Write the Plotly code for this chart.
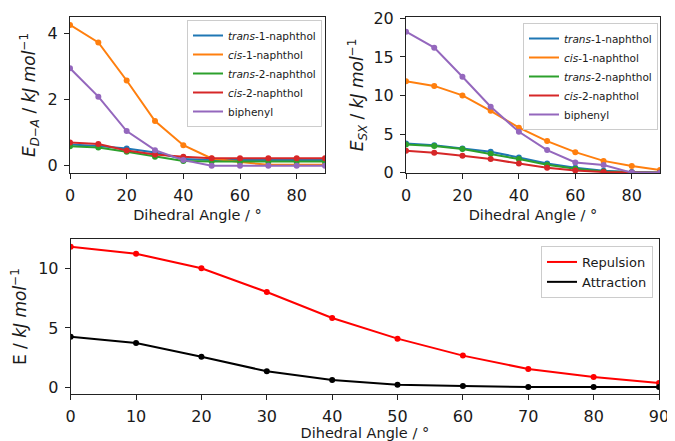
import plotly.graph_objects as go

angles = [0, 10, 20, 30, 40, 50, 60, 70, 80, 90]

series_names = ["<i>trans</i>-1-naphthol", "<i>cis</i>-1-naphthol",
                "<i>trans</i>-2-naphthol", "<i>cis</i>-2-naphthol", "biphenyl"]
series_colors = ["#1f77b4", "#ff7f0e", "#2ca02c", "#d62728", "#9467bd"]

# E_D-A (kJ/mol)
eda_trans1 = [0.64, 0.60, 0.52, 0.40, 0.20, 0.17, 0.17, 0.17, 0.17, 0.17]
eda_cis1 = [4.26, 3.73, 2.58, 1.35, 0.62, 0.22, 0.11, 0.03, 0.03, 0.03]
eda_trans2 = [0.59, 0.55, 0.42, 0.27, 0.14, 0.13, 0.13, 0.13, 0.13, 0.13]
eda_cis2 = [0.70, 0.66, 0.46, 0.34, 0.27, 0.23, 0.23, 0.23, 0.23, 0.23]
eda_biphenyl = [2.95, 2.09, 1.05, 0.47, 0.17, 0.0, 0.0, 0.0, 0.0, 0.0]

# E_SX (kJ/mol)
esx_trans1 = [3.80, 3.56, 3.15, 2.72, 1.99, 1.20, 0.65, 0.26, 0.10, 0.05]
esx_cis1 = [11.84, 11.25, 10.02, 8.02, 5.84, 4.10, 2.67, 1.54, 0.87, 0.36]
esx_trans2 = [3.67, 3.45, 3.07, 2.46, 1.77, 1.04, 0.52, 0.17, 0.05, 0.0]
esx_cis2 = [2.85, 2.60, 2.20, 1.77, 1.20, 0.65, 0.30, 0.10, 0.02, 0.0]
esx_biphenyl = [18.27, 16.20, 12.44, 8.55, 5.31, 2.94, 1.34, 1.00, 0.02, 0.0]

# bottom panel
repulsion = [11.84, 11.25, 10.02, 8.02, 5.84, 4.10, 2.67, 1.54, 0.87, 0.36]
attraction = [4.26, 3.73, 2.58, 1.35, 0.62, 0.22, 0.11, 0.03, 0.03, 0.03]

eda_series = [eda_trans1, eda_cis1, eda_trans2, eda_cis2, eda_biphenyl]
esx_series = [esx_trans1, esx_cis1, esx_trans2, esx_cis2, esx_biphenyl]

top_ticks = [0, 20, 40, 60, 80]
bottom_ticks = [0, 10, 20, 30, 40, 50, 60, 70, 80, 90]

FONT = "DejaVu Sans"
TXT = "#1a1a1a"
OFF = 8                      # default page body margin
W, H = 675 - OFF, 441 - OFF

def px(x):
    return (x - OFF) / W

def py(y):
    return 1 - (y - OFF) / H

fig = go.Figure()

def add_series(xa, ya, name, color, vals, legend, lw=2, ms=6):
    fig.add_trace(go.Scatter(x=angles, y=vals, mode="lines", name=name,
                             line=dict(color=color, width=lw),
                             xaxis=xa, yaxis=ya, legend=legend, showlegend=True))
    fig.add_trace(go.Scatter(x=angles, y=vals, mode="markers", name=name,
                             marker=dict(color=color, size=ms),
                             xaxis=xa, yaxis=ya, showlegend=False))

for n, c, v in zip(series_names, series_colors, eda_series):
    add_series("x", "y", n, c, v, "legend")
for n, c, v in zip(series_names, series_colors, esx_series):
    add_series("x2", "y2", n, c, v, "legend2")
add_series("x3", "y3", "Repulsion", "#ff0000", repulsion, "legend3")
add_series("x3", "y3", "Attraction", "#000000", attraction, "legend3")

axis_common = dict(showline=True, mirror=True, linecolor="#222", linewidth=1,
                   ticks="outside", ticklen=5, tickwidth=1, tickcolor="#222",
                   ticklabelstandoff=3,
                   showgrid=False, zeroline=False, automargin=False,
                   tickfont=dict(family=FONT, size=16, color=TXT))

xtitle = dict(text="Dihedral Angle / °", font=dict(family=FONT, size=14.5, color=TXT), standoff=5)
YT = dict(family=FONT, size=17, color=TXT)

leg_common = dict(xanchor="right", yanchor="top",
                  bgcolor="rgba(255,255,255,0.85)", bordercolor="#cccccc", borderwidth=1,
                  itemwidth=30, tracegroupgap=0)

fig.update_layout(
    width=W, height=H, margin=dict(l=0, r=0, t=0, b=0),
    paper_bgcolor="white", plot_bgcolor="white",
    font=dict(family=FONT, color=TXT),
    xaxis=dict(axis_common, domain=[px(70), px(325)], range=[0, 90],
               tickvals=top_ticks, title=xtitle, anchor="y"),
    yaxis=dict(axis_common, domain=[py(173), py(17)], range=[-0.22, 4.5],
               tickvals=[0, 2, 4], anchor="x",
               title=dict(text="<i>E</i><sub><i>D</i>−<i>A</i></sub> / <i>kJ mol</i><sup>−1</sup>",
                          font=YT, standoff=7)),
    xaxis2=dict(axis_common, domain=[px(406), px(660)], range=[0, 90],
                tickvals=top_ticks, title=xtitle, anchor="y2"),
    yaxis2=dict(axis_common, domain=[py(173), py(17)], range=[-0.03, 20.17],
                tickvals=[0, 5, 10, 15, 20], anchor="x2",
                title=dict(text="<i>E</i><sub><i>SX</i></sub> / <i>kJ mol</i><sup>−1</sup>",
                           font=YT, standoff=5)),
    xaxis3=dict(axis_common, domain=[px(70.7), px(659)], range=[0, 90],
                tickvals=bottom_ticks, title=xtitle, anchor="y3"),
    yaxis3=dict(axis_common, domain=[py(394), py(239.3)], range=[-0.56, 12.46],
                tickvals=[0, 5, 10], anchor="x3",
                title=dict(text="E / <i>kJ mol</i><sup>−1</sup>",
                           font=YT, standoff=7)),
    legend=dict(leg_common, x=px(322), y=py(20),
                font=dict(family=FONT, size=10.5, color=TXT)),
    legend2=dict(leg_common, x=px(658), y=py(23),
                 font=dict(family=FONT, size=10.5, color=TXT)),
    legend3=dict(leg_common, x=px(653), y=py(246),
                 font=dict(family=FONT, size=13, color=TXT)),
    showlegend=True,
)

fig.add_annotation(text="(", x=px(670), y=py(414), xref="paper", yref="paper",
                   xanchor="center", yanchor="middle", showarrow=False,
                   font=dict(family=FONT, size=14, color="#333"))

fig.write_html("out.html", post_script="document.body.style.overflow='hidden';")
